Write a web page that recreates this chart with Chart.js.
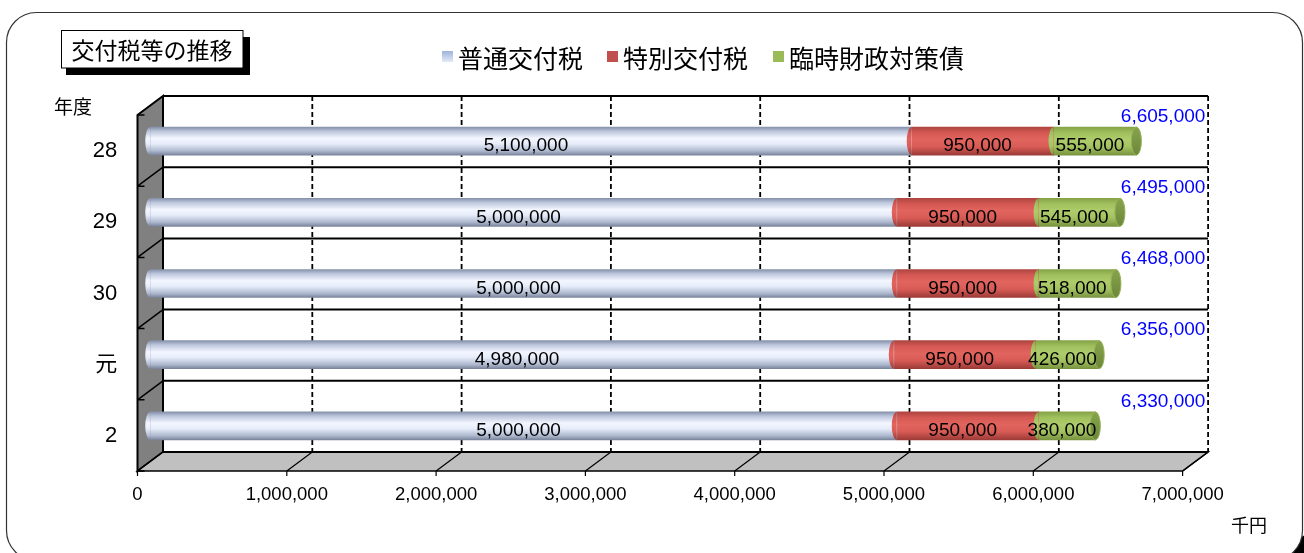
<!DOCTYPE html>
<html>
<head>
<meta charset="utf-8">
<script src="https://cdn.jsdelivr.net/npm/chart.js@4.4.1/dist/chart.umd.min.js"></script>
<style>
html,body{margin:0;padding:0;background:#fff;overflow:hidden}
#wrap{width:1304px;height:553px;position:relative}
canvas{display:block}
</style>
</head>
<body>
<div id="wrap"><canvas id="c" width="1304" height="553"></canvas></div>
<script>
// ---- data ----
const categories = ['28', '29', '30', '元', '2'];
const seriesNames = ['普通交付税', '特別交付税', '臨時財政対策債'];
const futsuValues = [5100000, 5000000, 5000000, 4980000, 5000000];
const tokubetsuValues = [950000, 950000, 950000, 950000, 950000];
const rinjiValues = [555000, 545000, 518000, 426000, 380000];
const totalValues = [6605000, 6495000, 6468000, 6356000, 6330000];
const xTickValues = [0, 1000000, 2000000, 3000000, 4000000, 5000000, 6000000, 7000000];
const titleText = '交付税等の推移';
const yUnitText = '年度';
const xUnitText = '千円';

// ---- styles ----
const DX = 12.75, DY = 9.5, RX = 5, BAR_H = 28;
const NUM_FONT = "'Liberation Sans', Arial, 'Noto Sans CJK JP', sans-serif";
const JP_FONT = "'Noto Sans CJK JP', 'Noto Sans', sans-serif";
const stopsList = [
  [[0, '#8692ab'], [0.15, '#bcc6dc'], [0.4, '#f3f6ff'], [0.6, '#e6ecf9'], [0.85, '#aeb9cf'], [1, '#7a859c']],
  [[0, '#ad4540'], [0.2, '#d45853'], [0.45, '#e2645e'], [0.7, '#d95b56'], [1, '#9c3b37']],
  [[0, '#85a347'], [0.2, '#a0c05d'], [0.45, '#aecc6b'], [0.7, '#a3c260'], [1, '#789440']]
];
const solidColors = ['#c9d3e8', '#c0504d', '#9bbb59'];

function makeGrad(ctx, yc, stops) {
  const g = ctx.createLinearGradient(0, yc - BAR_H / 2, 0, yc + BAR_H / 2);
  stops.forEach(s => g.addColorStop(s[0], s[1]));
  return g;
}
function bg(idx) {
  return (c) => {
    const ch = c.chart;
    if (c.dataIndex === undefined || !ch.scales || !ch.scales.y || !ch.chartArea) return solidColors[idx];
    const yc = ch.scales.y.getPixelForValue(c.dataIndex);
    return makeGrad(ch.ctx, yc, stopsList[idx]);
  };
}
const fmt = v => Number(v).toLocaleString('en-US');

const decoPlugin = {
  id: 'deco',
  beforeDraw(chart) {
    const ctx = chart.ctx;
    ctx.save();
    ctx.fillStyle = '#fff';
    ctx.fillRect(0, 0, chart.width, chart.height);
    // corner shadow
    ctx.beginPath();
    ctx.arc(1320, 570, 38, 0, Math.PI * 2);
    ctx.fillStyle = '#000';
    ctx.fill();
    // rounded frame
    ctx.beginPath();
    ctx.roundRect(6.5, 12.5, 1296, 548, 30);
    ctx.fillStyle = '#fff';
    ctx.fill();
    ctx.strokeStyle = '#333';
    ctx.lineWidth = 1.2;
    ctx.stroke();
    // title box with shadow
    ctx.fillStyle = '#000';
    ctx.fillRect(66, 37, 184, 38);
    ctx.fillStyle = '#fff';
    ctx.fillRect(61.5, 30.5, 181.5, 37.5);
    ctx.strokeStyle = '#000';
    ctx.lineWidth = 1;
    ctx.strokeRect(61.5, 30.5, 181.5, 37.5);
    ctx.fillStyle = '#000';
    ctx.font = '23px ' + JP_FONT;
    ctx.textAlign = 'center';
    ctx.textBaseline = 'middle';
    ctx.fillText(titleText, 152, 50);
    // legend
    const lx = [442, 607, 773];
    ctx.font = '25px ' + JP_FONT;
    ctx.textAlign = 'left';
    seriesNames.forEach((n, i) => {
      if (i === 0) {
        const g = ctx.createLinearGradient(0, 51, 0, 62);
        g.addColorStop(0, '#9fb3dc');
        g.addColorStop(1, '#e3e9f6');
        ctx.fillStyle = g;
      } else {
        ctx.fillStyle = solidColors[i];
      }
      ctx.fillRect(lx[i], 51, 11, 11);
      ctx.fillStyle = '#000';
      ctx.fillText(n, lx[i] + 16, 58);
    });
    // axis unit labels
    ctx.font = '19px ' + JP_FONT;
    ctx.textAlign = 'center';
    ctx.fillText(yUnitText, 73, 107);
    ctx.font = '18px ' + JP_FONT;
    ctx.fillText(xUnitText, 1249, 525);
    ctx.restore();
  },
  beforeDatasetsDraw(chart) {
    const ctx = chart.ctx;
    const xs = chart.scales.x;
    const a = chart.chartArea;
    const x0 = xs.getPixelForValue(xTickValues[0]);
    const x1 = xs.getPixelForValue(xTickValues[xTickValues.length - 1]);
    const top = a.top, bot = a.bottom;
    const band = (bot - top) / categories.length;
    ctx.save();
    // side wall
    ctx.beginPath();
    ctx.moveTo(x0 - DX, top + DY);
    ctx.lineTo(x0 + DX, top - DY);
    ctx.lineTo(x0 + DX, bot - DY);
    ctx.lineTo(x0 - DX, bot + DY);
    ctx.closePath();
    ctx.fillStyle = '#808080';
    ctx.fill();
    ctx.strokeStyle = '#000';
    ctx.lineWidth = 2;
    ctx.stroke();
    // floor
    ctx.beginPath();
    ctx.moveTo(x0 - DX, bot + DY);
    ctx.lineTo(x0 + DX, bot - DY);
    ctx.lineTo(x1 + DX, bot - DY);
    ctx.lineTo(x1 - DX, bot + DY);
    ctx.closePath();
    ctx.fillStyle = '#c0c0c0';
    ctx.fill();
    ctx.lineWidth = 1.5;
    ctx.stroke();
    // floor diagonals and front ticks
    ctx.lineWidth = 1.2;
    xTickValues.forEach(v => {
      const px = xs.getPixelForValue(v);
      ctx.beginPath();
      ctx.moveTo(px + DX, bot - DY);
      ctx.lineTo(px - DX, bot + DY);
      ctx.moveTo(px - DX, bot + DY);
      ctx.lineTo(px - DX, bot + DY + 5);
      ctx.stroke();
    });
    // side wall diagonals and stubs
    for (let i = 0; i <= categories.length; i++) {
      const yb = top + band * i;
      ctx.beginPath();
      if (i > 0 && i < categories.length) {
        ctx.moveTo(x0 + DX, yb - DY);
        ctx.lineTo(x0 - DX, yb + DY);
      }
      ctx.moveTo(x0 - DX, yb + DY);
      ctx.lineTo(x0 - DX + 7, yb + DY);
      ctx.lineWidth = 1.5;
      ctx.stroke();
    }
    // back wall horizontal lines
    ctx.lineWidth = 2;
    for (let i = 0; i <= categories.length; i++) {
      const yb = top + band * i - DY;
      ctx.beginPath();
      ctx.moveTo(x0 + DX, yb);
      ctx.lineTo(x1 + DX, yb);
      ctx.stroke();
    }
    // back wall left edge
    ctx.beginPath();
    ctx.moveTo(x0 + DX, top - DY);
    ctx.lineTo(x0 + DX, bot - DY);
    ctx.stroke();
    // dashed gridlines
    ctx.setLineDash([5, 3]);
    ctx.lineWidth = 1.8;
    xTickValues.slice(1).forEach(v => {
      const px = xs.getPixelForValue(v) + DX;
      ctx.beginPath();
      ctx.moveTo(px, top - DY);
      ctx.lineTo(px, bot - DY);
      ctx.stroke();
    });
    ctx.restore();
  },
  afterDatasetsDraw(chart) {
    const ctx = chart.ctx;
    const xs = chart.scales.x;
    const nDs = chart.data.datasets.length;
    ctx.save();
    categories.forEach((cat, i) => {
      for (let d = 0; d < nDs; d++) {
        const el = chart.getDatasetMeta(d).data[i];
        const p = el.getProps(['x', 'y', 'base', 'height'], true);
        const h = p.height / 2;
        const g = makeGrad(ctx, p.y, stopsList[d]);
        ctx.beginPath();
        ctx.ellipse(p.base, p.y, RX, h, 0, Math.PI / 2, Math.PI * 3 / 2);
        ctx.closePath();
        ctx.fillStyle = g;
        ctx.fill();
        if (d === nDs - 1) {
          ctx.beginPath();
          ctx.ellipse(p.x, p.y, RX, h, 0, 0, Math.PI * 2);
          const fg = ctx.createLinearGradient(0, p.y - h, 0, p.y + h);
          fg.addColorStop(0, '#87a44c');
          fg.addColorStop(1, '#6b873a');
          ctx.fillStyle = fg;
          ctx.fill();
          ctx.strokeStyle = '#95b257';
          ctx.lineWidth = 1;
          ctx.stroke();
        }
      }
      // value labels
      ctx.font = '19px ' + NUM_FONT;
      ctx.fillStyle = '#000';
      ctx.textAlign = 'center';
      ctx.textBaseline = 'middle';
      for (let d = 0; d < nDs; d++) {
        const el = chart.getDatasetMeta(d).data[i];
        const p = el.getProps(['x', 'y', 'base'], true);
        const v = chart.data.datasets[d].data[i];
        ctx.fillText(fmt(v), (p.x + p.base) / 2 - 5, p.y + 5);
      }
      // totals
      const el0 = chart.getDatasetMeta(0).data[i];
      ctx.font = '19px ' + NUM_FONT;
      ctx.fillStyle = '#0000ff';
      ctx.textAlign = 'right';
      ctx.fillText(fmt(totalValues[i]), xs.getPixelForValue(xTickValues[xTickValues.length - 1]) + 10, el0.y - 24.5);
    });
    ctx.restore();
  }
};

new Chart(document.getElementById('c'), {
  type: 'bar',
  data: {
    labels: categories,
    datasets: [
      { label: seriesNames[0], data: futsuValues, backgroundColor: bg(0), borderWidth: 0, barThickness: BAR_H },
      { label: seriesNames[1], data: tokubetsuValues, backgroundColor: bg(1), borderWidth: 0, barThickness: BAR_H },
      { label: seriesNames[2], data: rinjiValues, backgroundColor: bg(2), borderWidth: 0, barThickness: BAR_H }
    ]
  },
  options: {
    indexAxis: 'y',
    responsive: false,
    devicePixelRatio: 1,
    animation: false,
    layout: { padding: { left: 20, top: 105.5, right: 108.65, bottom: 0 } },
    plugins: { legend: { display: false }, tooltip: { enabled: false }, title: { display: false } },
    scales: {
      x: {
        stacked: true,
        min: 0,
        max: 7000000,
        afterBuildTicks: s => { s.ticks = xTickValues.map(v => ({ value: v })); },
        afterFit: s => { s.height = 91.5; },
        grid: { display: false, drawTicks: false },
        border: { display: false },
        ticks: {
          callback: v => fmt(v),
          font: { family: NUM_FONT, size: 18.5 },
          color: '#000',
          labelOffset: -12.75,
          padding: 22,
          maxRotation: 0,
          autoSkip: false
        }
      },
      y: {
        stacked: true,
        afterFit: s => { s.width = 130.25; },
        grid: { display: false, drawTicks: false },
        border: { display: false },
        ticks: {
          font: { family: NUM_FONT, size: 22 },
          color: '#000',
          padding: 33,
          labelOffset: 10
        }
      }
    }
  },
  plugins: [decoPlugin]
});
</script>
</body>
</html>
